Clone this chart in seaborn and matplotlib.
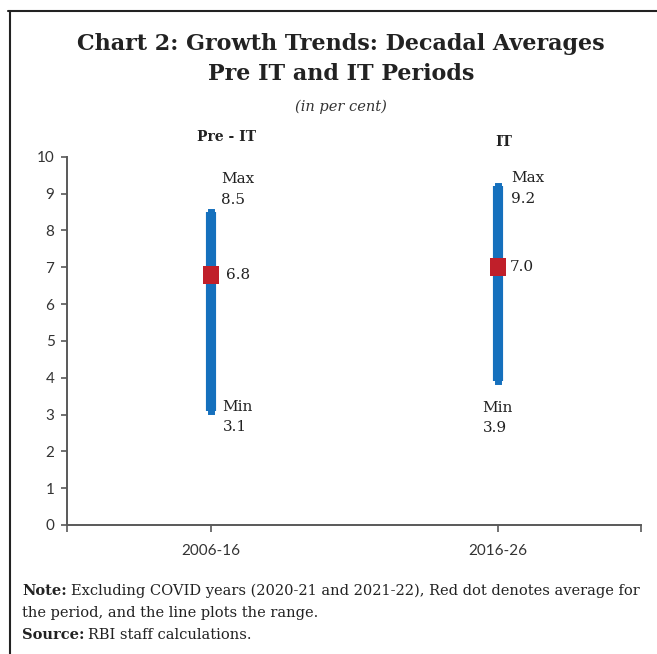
import matplotlib
matplotlib.use("Agg")
import matplotlib.pyplot as plt
from matplotlib.lines import Line2D
import seaborn as sns
import pandas as pd

# ---- data ----
periods = ["2006-16", "2016-26"]
regimes = ["Pre - IT", "IT"]
min_vals = [3.1, 3.9]
max_vals = [8.5, 9.2]
avg_vals = [6.8, 7.0]
y_ticks = list(range(0, 11))

title_text = "Chart 2: Growth Trends: Decadal Averages\nPre IT and IT Periods"
subtitle_text = "(in per cent)"

# ---- layout (points offsets) ----
max_off = [(7.5, 3.6), (10.0, -14.0)]
min_off = [(8.6, 7.9), (-10.8, -14.0)]
avg_off = [(11.0, 0.0), (9.0, 0.0)]

BLUE = "#1570BD"
RED = "#C01F2A"
SPINE = "#595959"
TXT = "#222222"

sns.set_theme(style="white")
plt.rcParams["font.family"] = ["DejaVu Serif", "DejaVu Sans"]

W, H = 657, 654
fig = plt.figure(figsize=(W / 100, H / 100), dpi=100)
ax = fig.add_axes([67 / W, 1 - 525 / H, (641 - 67) / W, (525 - 156.7) / H])

range_df = pd.DataFrame({"period": periods * 2, "value": min_vals + max_vals})

# thin caps that project slightly beyond the range
sns.lineplot(data=range_df, x="period", y="value", units="period", estimator=None,
             sort=False, color=BLUE, linewidth=5.0, solid_capstyle="projecting",
             ax=ax, legend=False)
# main thick range line
sns.lineplot(data=range_df, x="period", y="value", units="period", estimator=None,
             sort=False, color=BLUE, linewidth=7.3, solid_capstyle="butt",
             ax=ax, legend=False)

avg_df = pd.DataFrame({"period": periods, "avg": avg_vals})
rect = [(-0.83, -1), (0.83, -1), (0.83, 1), (-0.83, 1), (-0.83, -1)]
sns.scatterplot(data=avg_df, x="period", y="avg", marker=rect, s=170, color=RED,
                linewidth=0, ax=ax, zorder=5, legend=False)

ax.set_xlim(-0.5, 1.5)
ax.set_ylim(0, 10)
ax.set_yticks(y_ticks)
ax.set_yticklabels([str(t) for t in y_ticks])
ax.set_xticks([0, 1])
ax.set_xticklabels(periods)
ax.set_xticks([-0.5, 1.5], minor=True)
ax.set_xlabel("")
ax.set_ylabel("")

for s in ["top", "right"]:
    ax.spines[s].set_visible(False)
for s in ["left", "bottom"]:
    ax.spines[s].set_color(SPINE)
    ax.spines[s].set_linewidth(1.4)

ax.tick_params(axis="y", which="major", direction="out", length=4, width=1.2,
               color=SPINE, pad=5, labelsize=11, labelcolor="#333333", left=True)
ax.tick_params(axis="x", which="both", direction="out", length=5, width=1.2,
               color=SPINE, pad=9, labelsize=11, labelcolor="#333333", bottom=True)
for lab in ax.get_yticklabels() + ax.get_xticklabels():
    lab.set_fontfamily(["Lato", "DejaVu Sans"])

# annotations
ann_fs = 11
for i in range(len(periods)):
    ax.annotate(f"Max\n{max_vals[i]:.1f}", xy=(i, max_vals[i]), xytext=max_off[i],
                textcoords="offset points", ha="left", va="bottom", fontsize=ann_fs,
                color=TXT, linespacing=1.6)
    ax.annotate(f"Min\n{min_vals[i]:.1f}", xy=(i, min_vals[i]), xytext=min_off[i],
                textcoords="offset points", ha="left", va="top", fontsize=ann_fs,
                color=TXT, linespacing=1.6)
    ax.annotate(f"{avg_vals[i]:.1f}", xy=(i, avg_vals[i]), xytext=avg_off[i],
                textcoords="offset points", ha="left", va="center", fontsize=ann_fs,
                color=TXT)

# regime labels above the plot
ax.text(0.055, 1.035, regimes[0], transform=ax.get_xaxis_transform(), ha="center",
        va="bottom", fontsize=10, fontweight="bold", color=TXT)
ax.text(1.02, 1.022, regimes[1], transform=ax.get_xaxis_transform(), ha="center",
        va="bottom", fontsize=10, fontweight="bold", color=TXT)

# titles
fig.text(341 / W, 1 - 59 / H, title_text, ha="center", va="center", fontsize=16,
         fontweight="bold", color=TXT, linespacing=1.5)
fig.text(341 / W, 1 - 107 / H, subtitle_text, ha="center", va="center", fontsize=10.5,
         style="italic", color="#333333")

# notes: bold lead word followed by regular text
note_fs = 10.5
renderer = fig.canvas.get_renderer()
note_lines = [
    ("Note:", " Excluding COVID years (2020-21 and 2021-22), Red dot denotes average for", 591),
    ("", "the period, and the line plots the range.", 613),
    ("Source:", " RBI staff calculations.", 635),
]
for bold, rest, ypx in note_lines:
    x0 = 22 / W
    y0 = 1 - ypx / H
    if bold:
        t = fig.text(x0, y0, bold, ha="left", va="center", fontsize=note_fs,
                     fontweight="bold", color=TXT)
        bb = t.get_window_extent(renderer=renderer)
        x0 = bb.x1 / fig.bbox.width + 4 / W
        rest = rest.lstrip()
    fig.text(x0, y0, rest, ha="left", va="center", fontsize=note_fs, color=TXT)

# frame lines (top and left)
fig.add_artist(Line2D([8 / W, 1], [1 - 11 / H, 1 - 11 / H], transform=fig.transFigure,
                      color="#222222", linewidth=1.5))
fig.add_artist(Line2D([9.5 / W, 9.5 / W], [1 - 11 / H, 0], transform=fig.transFigure,
                      color="#222222", linewidth=1.5))

fig.savefig("out.png", dpi=100)
